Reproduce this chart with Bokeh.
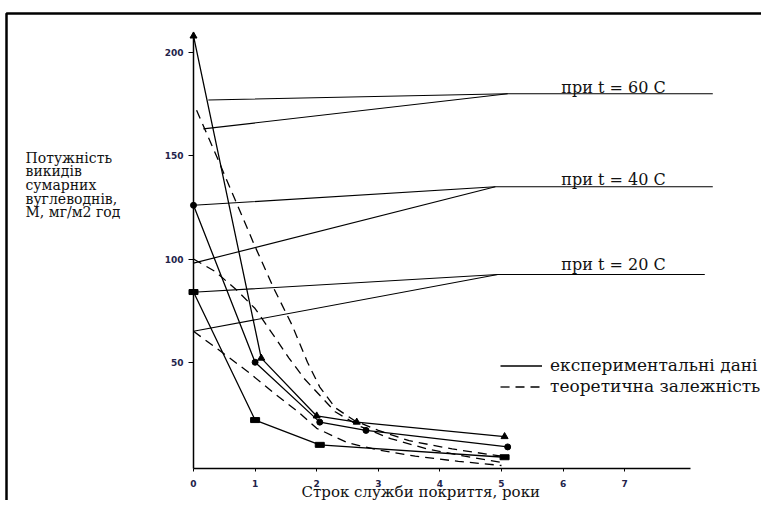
from bokeh.plotting import figure
from bokeh.models import (Range1d, FixedTicker, Label, Legend, LegendItem,
                          BoxAnnotation)
from bokeh.embed import file_html
from bokeh.resources import INLINE

# ---------------- data ----------------
x_ticks = [0, 1, 2, 3, 4, 5, 6, 7]
y_ticks = [50, 100, 150, 200]

# experimental data (solid lines with markers)
exp60_years = [0, 1.1, 2.0, 2.65, 5.05]
exp60_m = [208, 52, 24, 21, 14]
exp40_years = [0, 1.0, 2.05, 2.8, 5.1]
exp40_m = [126, 50, 21, 17, 9]
exp20_years = [0, 1.0, 2.05, 5.05]
exp20_m = [84, 22, 10, 4]

# theoretical dependence (dashed lines)
th60_years = [0.05, 0.4, 0.7, 1.0, 1.3, 1.6, 1.85, 2.05, 2.3, 2.6, 3.0, 3.5, 4.2, 5.0]
th60_m = [172, 148, 127, 106, 86, 68, 50, 38, 28, 22, 17, 12, 8, 4.5]
th40_years = [0, 0.35, 0.7, 1.0, 1.3, 1.55, 1.8, 2.05, 2.3, 2.7, 3.2, 3.8, 4.4, 5.0]
th40_m = [100, 94, 85, 76, 63, 52, 42, 34, 26, 19, 13, 8, 4.5, 1.5]
th20_years = [0, 0.5, 0.9, 1.35, 1.7, 2.0, 2.5, 3.0, 3.6, 4.3, 5.0]
th20_m = [65, 54, 45, 34, 26, 18, 11, 7.5, 4.5, 2, 0]

# leader lines from the temperature labels
lead60a_x, lead60a_y = [0.24, 5.1, 8.43], [177, 180, 180]
lead60b_x, lead60b_y = [0.16, 5.1], [163, 180]
lead40a_x, lead40a_y = [0, 4.9, 8.43], [126, 135, 135]
lead40b_x, lead40b_y = [0, 4.9], [98, 135]
lead20a_x, lead20a_y = [0.06, 4.94, 8.3], [84, 92.5, 92.5]
lead20b_x, lead20b_y = [0, 4.94], [65, 92.5]

temp_labels = ["при t = 60 C", "при t = 40 C", "при t = 20 C"]
y_title_lines = ["Потужність", "викидів", "сумарних", "вуглеводнів,", "М, мг/м2 год"]
x_title = "Строк служби покриття, роки"
legend_labels = ["експериментальні дані", "теоретична залежність"]

# ---------------- layout helpers (picture pixel -> data) ----------------
W, H = 761, 500
PX0, PXU = 193.0, 61.6
PY0, PYU = 465.0, 2.065


def X(px):
    return (px - PX0) / PXU


def Y(py):
    return (PY0 - py) / PYU


p = figure(width=W, height=H, x_range=Range1d(X(0), X(W)),
           y_range=Range1d(Y(H), Y(0)), output_backend="svg",
           toolbar_location=None, min_border=0)
p.outline_line_color = None
p.xgrid.visible = False
p.ygrid.visible = False
p.background_fill_color = "white"
p.border_fill_color = "white"

# axes drawn at fixed data locations
p.xaxis.fixed_location = Y(468)
p.yaxis.fixed_location = 0
p.xaxis.bounds = (0, X(690))
p.yaxis.bounds = (Y(468), Y(32))
p.xaxis.ticker = FixedTicker(ticks=x_ticks)
p.yaxis.ticker = FixedTicker(ticks=y_ticks)
for ax in (p.xaxis, p.yaxis):
    ax.axis_line_color = "black"
    ax.axis_line_width = 1.5
    ax.minor_tick_line_color = None
    ax.major_tick_in = 0
    ax.major_tick_line_color = "black"
    ax.major_label_text_font = "DejaVu Sans"
    ax.major_label_text_font_size = "9px"
    ax.major_label_text_font_style = "bold"
    ax.major_label_text_color = "#23234a"
p.xaxis.major_tick_out = 3
p.xaxis.major_label_standoff = 8
p.yaxis.major_tick_out = 5
p.yaxis.major_label_standoff = 5

# frame border of the figure
p.add_layout(BoxAnnotation(left=X(6), right=X(1200), top=Y(13), bottom=Y(900),
                           fill_color=None, line_color="black", line_alpha=1.0,
                           line_width=2.5))

# leader lines
for lx, ly in [(lead60a_x, lead60a_y), (lead60b_x, lead60b_y),
               (lead40a_x, lead40a_y), (lead40b_x, lead40b_y),
               (lead20a_x, lead20a_y), (lead20b_x, lead20b_y)]:
    p.line(lx, ly, line_color="black", line_width=1.1)

# theoretical (dashed)
dash = "9 6"
rth = p.line(th60_years, th60_m, line_color="black", line_width=1.3, line_dash=dash)
p.line(th40_years, th40_m, line_color="black", line_width=1.3, line_dash=dash)
p.line(th20_years, th20_m, line_color="black", line_width=1.3, line_dash=dash)

# experimental (solid with markers)
rexp = p.line(exp60_years, exp60_m, line_color="black", line_width=1.3)
p.scatter(exp60_years, exp60_m, marker="triangle", size=7, color="black")
p.line(exp40_years, exp40_m, line_color="black", line_width=1.3)
p.scatter(exp40_years, exp40_m, marker="circle", size=6, color="black")
p.line(exp20_years, exp20_m, line_color="black", line_width=1.3)
p.rect(exp20_years, exp20_m, width=9, height=5, width_units="screen",
       height_units="screen", color="black")

# temperature labels
for txt, py in zip(temp_labels, [86.5, 178.5, 263.5]):
    p.add_layout(Label(x=X(613), y=Y(py), text=txt, text_align="center",
                       text_baseline="alphabetic", text_font="DejaVu Serif",
                       text_font_size="16px", text_color="#111111"))

# y title (multi-line)
for i, txt in enumerate(y_title_lines):
    p.add_layout(Label(x=X(25), y=Y(157 + 13.7 * i), text=txt, text_align="left",
                       text_baseline="alphabetic", text_font="DejaVu Serif",
                       text_font_size="14px", text_color="#111111"))

# x title
p.add_layout(Label(x=X(301), y=Y(491), text=x_title, text_align="left",
                   text_baseline="alphabetic", text_font="DejaVu Serif",
                   text_font_size="15px", text_color="#111111"))

legend = Legend(items=[LegendItem(label=legend_labels[0], renderers=[rexp]),
                       LegendItem(label=legend_labels[1], renderers=[rth])],
                location=(500, 104), border_line_color=None,
                background_fill_alpha=0, padding=0, margin=0, spacing=1,
                glyph_width=42, glyph_height=15, label_height=15,
                label_standoff=8, label_text_font="DejaVu Serif",
                label_text_font_size="17px", label_text_color="#111111")
p.add_layout(legend)

open("out.html", "w").write(file_html(p, INLINE))
